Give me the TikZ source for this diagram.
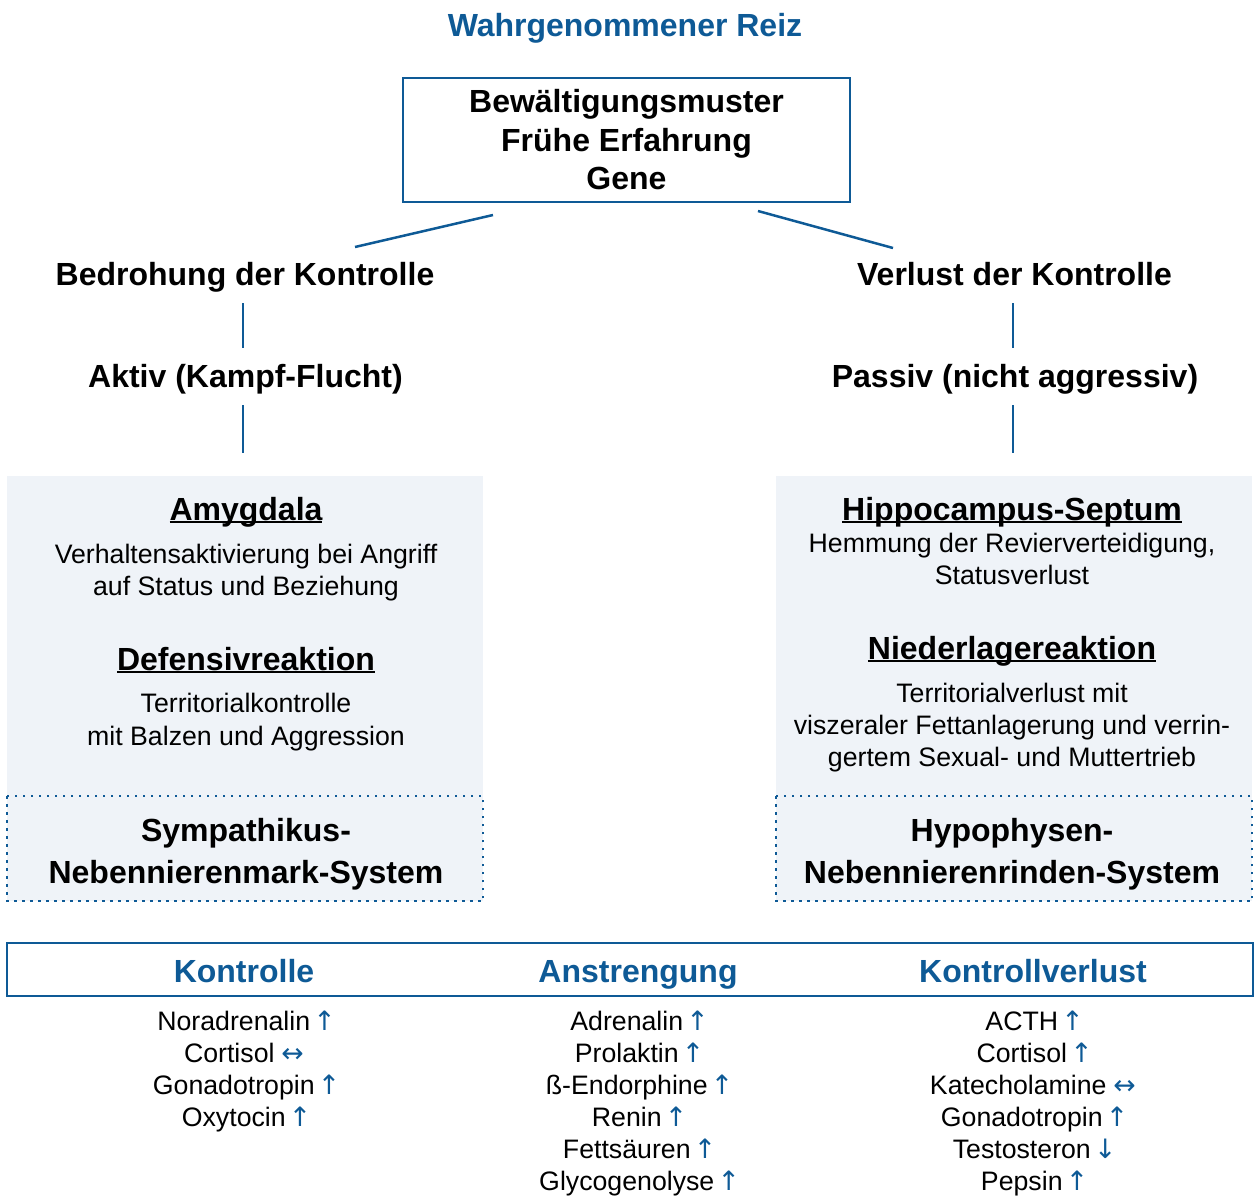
\documentclass[tikz,border=0pt]{standalone}
\usepackage{fontspec}
\setmainfont{Liberation Sans}
\newfontfamily\arrfont{DejaVu Sans}
\definecolor{mblue}{HTML}{0E5A96}
\definecolor{pgray}{HTML}{EFF3F8}
\newcommand\ulx[1]{\setbox0\hbox{#1}\rlap{\rule[-0.1em]{\wd0}{0.08em}}\box0}
\newcommand\arrU{\makebox[14pt][c]{\textcolor{mblue}{\arrfont ↑}}}
\newcommand\arrD{\makebox[14pt][c]{\textcolor{mblue}{\arrfont ↓}}}
\newcommand\arrLR{\makebox[21pt][c]{\textcolor{mblue}{\arrfont ↔}}}
\begin{document}
\begin{tikzpicture}[x=1pt,y=-1pt,
  bold/.style={font=\fontsize{32}{38}\selectfont\bfseries, inner sep=0pt, anchor=base},
  reg/.style={font=\fontsize{26.7}{32}\selectfont, inner sep=0pt, anchor=base},
  head/.style={bold, text=mblue},
  conn/.style={draw=mblue, line width=2.5pt},
  panel/.style={fill=pgray, draw=none},
  dotbox/.style={draw=mblue, line width=2.5pt, dash pattern=on 2.5pt off 5.5pt},
]
\useasboundingbox (0,0) rectangle (1255,1195);

% panels
\path[panel] (7,476) rectangle (483,901);
\path[panel] (776,476) rectangle (1252,901);
\draw[dotbox] (7,796) rectangle (483,901);
\draw[dotbox] (776,796) rectangle (1252,901);

% title
\node[head] (title) at (625,36) {Wahrgenommener Reiz};

% top box
\node[draw=mblue, line width=2.5pt, minimum width=447pt, minimum height=124pt,
      inner sep=0pt, align=center, font=\fontsize{32}{38.5}\selectfont\bfseries]
      (box) at (626.5,140) {Bewältigungsmuster\\Frühe Erfahrung\\Gene};

% branch headings
\node[bold] (bedr) at (245,285) {Bedrohung der Kontrolle};
\node[bold] (verl) at (1014.5,285) {Verlust der Kontrolle};
\node[bold] (aktiv) at (245.5,387) {Aktiv (Kampf-Flucht)};
\node[bold] (passiv) at (1015,387) {Passiv (nicht aggressiv)};

% connectors
\coordinate (bl1) at (493,215); \coordinate (bl2) at (355,247);
\coordinate (br1) at (758,211); \coordinate (br2) at (893,248);
\draw[conn] (bl1) -- (bl2);
\draw[conn] (br1) -- (br2);
\coordinate (l1a) at (243,303); \coordinate (l1b) at (243,348);
\coordinate (l2a) at (243,405); \coordinate (l2b) at (243,453);
\coordinate (r1a) at (1013,303); \coordinate (r1b) at (1013,348);
\coordinate (r2a) at (1013,405); \coordinate (r2b) at (1013,453);
\draw[conn] (l1a) -- (l1b);
\draw[conn] (l2a) -- (l2b);
\draw[conn] (r1a) -- (r1b);
\draw[conn] (r2a) -- (r2b);

% left panel
\node[bold] (amy) at (246,520) {\ulx{Amygdala}};
\node[reg] (amy1) at (246,563.5) {Verhaltensaktivierung bei Angriff};
\node[reg] (amy2) at (246,595.5) {auf Status und Beziehung};
\node[bold] (def) at (246,670) {\ulx{Defensivreaktion}};
\node[reg] (def1) at (246,712.5) {Territorialkontrolle};
\node[reg] (def2) at (246,745.5) {mit Balzen und Aggression};
\node[bold] (sym1) at (246,841) {Sympathikus-};
\node[bold] (sym2) at (246,883) {Nebennierenmark-System};

% right panel
\node[bold] (hip) at (1012,520) {\ulx{Hippocampus-Septum}};
\node[reg] (hip1) at (1012,552) {Hemmung der Revierverteidigung,};
\node[reg] (hip2) at (1012,584) {Statusverlust};
\node[bold] (nie) at (1012,659) {\ulx{Niederlagereaktion}};
\node[reg] (nie1) at (1012,702) {Territorialverlust mit};
\node[reg] (nie2) at (1012,734) {viszeraler Fettanlagerung und verrin-};
\node[reg] (nie3) at (1012,766) {gertem Sexual- und Muttertrieb};
\node[bold] (hyp1) at (1012,841) {Hypophysen-};
\node[bold] (hyp2) at (1012,883) {Nebennierenrinden-System};

% bottom header
\node[draw=mblue, line width=2.5pt, minimum width=1246pt, minimum height=53pt, inner sep=0pt]
  (hdr) at (630,969.5) {};
\node[head] (k1) at (244,982) {Kontrolle};
\node[head] (k2) at (638,982) {Anstrengung};
\node[head] (k3) at (1033,982) {Kontrollverlust};

% lists
\node[reg] (a1) at (244.5,1030.5) {Noradrenalin \arrU};
\node[reg] (a2) at (243.5,1062.5) {Cortisol \arrLR};
\node[reg] (a3) at (244.5,1094.5) {Gonadotropin \arrU};
\node[reg] (a4) at (244.5,1126.5) {Oxytocin \arrU};

\node[reg] (b1) at (637.5,1030.5) {Adrenalin \arrU};
\node[reg] (b2) at (637.5,1062.5) {Prolaktin \arrU};
\node[reg] (b3) at (637.5,1094.5) {ß-Endorphine \arrU};
\node[reg] (b4) at (637.5,1126.5) {Renin \arrU};
\node[reg] (b5) at (637.5,1158.5) {Fettsäuren \arrU};
\node[reg] (b6) at (637.5,1190.5) {Glycogenolyse \arrU};

\node[reg] (c1) at (1032.5,1030.5) {ACTH \arrU};
\node[reg] (c2) at (1032.5,1062.5) {Cortisol \arrU};
\node[reg] (c3) at (1032.5,1094.5) {Katecholamine \arrLR};
\node[reg] (c4) at (1032.5,1126.5) {Gonadotropin \arrU};
\node[reg] (c5) at (1032.5,1158.5) {Testosteron \arrD};
\node[reg] (c6) at (1032.5,1190.5) {Pepsin \arrU};
\end{tikzpicture}
\end{document}
